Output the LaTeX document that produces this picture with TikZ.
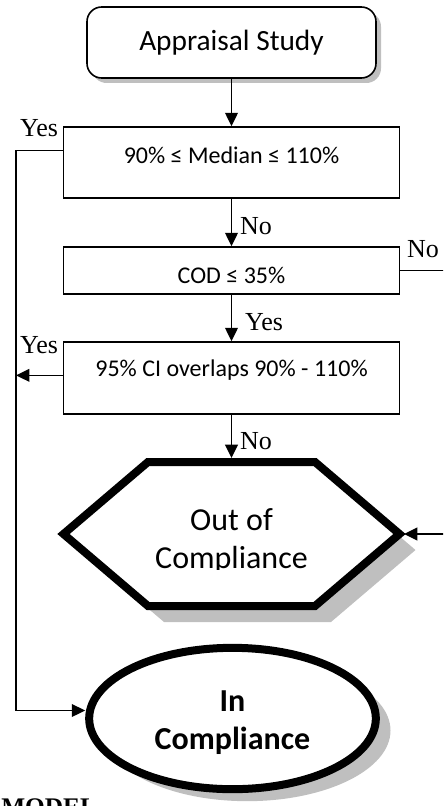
\documentclass[tikz,border=0pt]{standalone}
\usepackage{fontspec}
\setmainfont{Liberation Serif}
\newfontfamily\calibri{Carlito}
\usetikzlibrary{arrows.meta,shapes.geometric,shadows}

\tikzset{
  testbox/.style={draw,line width=1.2pt,minimum width=252pt,inner sep=0pt},
  boxtext/.style={font=\calibri\fontsize{18}{21}\selectfont,inner sep=0pt},
  bigtext/.style={font=\calibri\fontsize{24}{29}\selectfont,align=center,inner sep=0pt},
  answer/.style={font=\fontsize{19.5}{22}\selectfont,inner sep=0pt},
  flow/.style={line width=1.2pt,-{Triangle[length=10pt,width=9.5pt]}},
  greyshadow/.style={drop shadow={shadow xshift=#1,shadow yshift=-#1,fill=black!25,opacity=1}}
}

\begin{document}
\begin{tikzpicture}[x=0.75pt,y=-0.75pt]
	\useasboundingbox (0,0) rectangle (443,806);
	\clip (0,0) rectangle (443,806);

	% start and the three tests
	\node[draw,fill=white,line width=1.2pt,rounded corners=11pt,minimum width=216.75pt,minimum height=53.25pt,
		greyshadow=3.75pt,font=\calibri\fontsize{22}{26}\selectfont] (study) at (231.5,42.5) {Appraisal Study};

	\node[testbox,minimum height=53.25pt] (median) at (231.5,162.5) {};
	\node[boxtext] (median-txt) at ([yshift=5.6pt]median.center) {90\% ≤ Median ≤ 110\%};

	\node[testbox,minimum height=35.25pt] (cod) at (231.5,270.5) {};
	\node[boxtext] (cod-txt) at ([yshift=-3.4pt]cod.center) {COD ≤ 35\%};

	\node[testbox,minimum height=54pt] (ci) at (231.5,378) {};
	\node[boxtext] (ci-txt) at ([yshift=6pt]ci.center) {95\% CI overlaps 90\% - 110\%};

	% out of compliance
	\fill[black!25] (164,478) -- (331,478) -- (415.5,550) -- (331,622) -- (164,622) -- (79.5,550) -- cycle;
	\draw[line width=6pt,fill=white] (148,462) -- (315,462) -- (399.5,534) -- (315,606) -- (148,606) -- (63.5,534) -- cycle;
	\coordinate (hex-top) at (231.5,458);
	\coordinate (hex-right) at (404,534);
	\begin{scope}
		\clip (100,480) rectangle (360,569);
		\node[bigtext] (out) at (231.5,541) {Out of\\Compliance};
	\end{scope}

	% in compliance
	\node[ellipse,draw,fill=white,line width=6pt,minimum width=215pt,minimum height=106pt,
		drop shadow={shadow xshift=11pt,shadow yshift=-9pt,fill=black!25,opacity=1}] (incomp) at (232.5,718.5) {};
	\node[bigtext,font=\calibri\bfseries\fontsize{24}{29}\selectfont] (incomp-txt) at ([yshift=-3pt]incomp.center) {In\\Compliance};

	% connectors
	\coordinate (rail) at (16,0);
	\coordinate (rim) at (470,0);
	\coordinate (yes-a) at ([yshift=9pt]median.west);
	\coordinate (in-a) at ([yshift=6pt]incomp.west);

	\draw[flow] (study) -- (median);
	\draw[flow] (median) -- (cod);
	\draw[flow] (cod) -- (ci);
	\draw[flow] (ci) -- (hex-top);
	\draw[flow] (yes-a) -- (yes-a -| rail) |- (in-a);
	\draw[flow] ([yshift=2pt]ci.west) -- ([yshift=2pt]ci.west -| rail);
	\draw[flow] (cod.east) -- (cod.east -| rim) |- (hex-right);

	\node[answer] (yes-median) at (39,128) {Yes};
	\node[answer] (no-median) at (256,226) {No};
	\node[answer] (no-cod) at (423,249) {No};
	\node[answer] (yes-cod) at (264,322) {Yes};
	\node[answer] (yes-ci) at (39,345) {Yes};
	\node[answer] (no-ci) at (256,441) {No};

	\node[anchor=north west,inner sep=0pt,font=\bfseries\fontsize{19}{22}\selectfont] (model) at (1,798) {MODEL};
\end{tikzpicture}
\end{document}
